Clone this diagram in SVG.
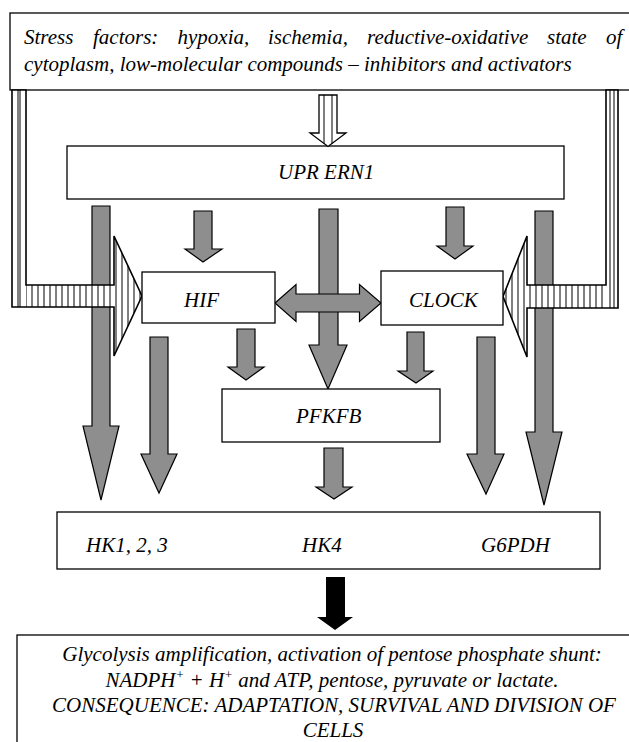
<svg xmlns="http://www.w3.org/2000/svg" width="629" height="742" viewBox="0 0 629 742">
<style>
.box{fill:#fff;stroke:#000;stroke-width:1.3}
.t{font-family:'Liberation Serif',serif;font-style:italic;font-size:21px;fill:#000}
.c{text-anchor:middle}
.g{fill:#8e8e8e;stroke:#000;stroke-width:1.2;stroke-linejoin:miter}
.hout{fill:none;stroke:#000;stroke-width:1.6}
.thin{stroke:#000;stroke-width:1}
</style>
<defs>
<pattern id="vh" width="6" height="10" patternUnits="userSpaceOnUse">
<rect width="6" height="10" fill="#fff"/>
<line x1="2" y1="0" x2="2" y2="10" stroke="#000" stroke-width="1"/>
</pattern>
</defs>

<g id="stress">
<rect class="box" x="10" y="13" width="630" height="77"/>
<text class="t" font-family="Liberation Serif" y="44"><tspan x="24">Stress</tspan><tspan x="93">factors:</tspan><tspan x="177.5">hypoxia,</tspan><tspan x="268">ischemia,</tspan><tspan x="367">reductive-oxidative</tspan><tspan x="547">state</tspan><tspan x="606">of</tspan></text>
<text class="t" font-family="Liberation Serif" x="24" y="71">cytoplasm, low-molecular compounds – inhibitors and activators</text>
</g>

<g id="upr">
<rect class="box" x="67" y="146" width="497" height="53"/>
<text class="t" font-family="Liberation Serif" x="278" y="179">UPR ERN1</text>
</g>

<g id="connectors">
<polygon class="g" points="92,206 110,206 110,426 119,426 101,500 83,426 92,426"/>
<polygon class="g" points="150,337 168,337 168,454 177,454 159,493 141,454 150,454"/>
<polygon class="g" points="194,211 212,211 212,249 222,249 203,262 185,249 194,249"/>
<polygon class="g" points="446,207 464,207 464,246 473,246 455,259 437,246 446,246"/>
<polygon class="g" points="319,209 338,209 338,345 347,345 328,389 309,345 319,345"/>
<polygon class="g" points="237,329 255,329 255,367 264,367 246,380 228,367 237,367"/>
<polygon class="g" points="407,332 424,332 424,371 433,371 416,383 398,371 407,371"/>
<polygon class="g" points="477,337 495,337 495,454 504,454 486,494 467,454 477,454"/>
<polygon class="g" points="535,211 553,211 553,432 562,432 544,505 526,432 535,432"/>
<polygon class="g" points="324,448 343,448 343,487 352,487 334,499 316,487 324,487"/>
<polygon class="g" points="275,303 296,284.5 296,294 359.5,294 359.5,284.5 381,303 359.5,321.5 359.5,312 296,312 296,321.5"/>
<polygon points="326,577 345,577 345,617 353,617 335,630 317,617 326,617" fill="#000"/>
<polygon points="319,95 337,95 337,133 346,133 328,146.5 310,133 319,133" fill="#fff" stroke="#000" stroke-width="1.3"/>
<line class="thin" x1="324" y1="95" x2="324" y2="143.5"/>
<line class="thin" x1="332" y1="95" x2="332" y2="143.5"/>
<polygon points="12,90 26,90 26,285 114,285 114,236 142,296 114,356 114,307 12,307" fill="url(#vh)"/>
<rect x="12" y="90" width="14" height="217" fill="#fff"/>
<line class="thin" x1="18" y1="90" x2="18" y2="307"/>
<line class="thin" x1="20" y1="90" x2="20" y2="307"/>
<polygon class="hout" points="12,90 26,90 26,285 114,285 114,236 142,296 114,356 114,307 12,307"/>
<polygon points="618,90 606,90 606,285 527,285 527,236 503,296.5 527,357 527,308 618,308" fill="url(#vh)"/>
<rect x="606" y="90" width="12" height="218" fill="#fff"/>
<line class="thin" x1="610" y1="90" x2="610" y2="308"/>
<line class="thin" x1="614" y1="90" x2="614" y2="308"/>
<polygon class="hout" points="618,90 606,90 606,285 527,285 527,236 503,296.5 527,357 527,308 618,308"/>
</g>

<g id="hif">
<rect class="box" x="142" y="272" width="133" height="51"/>
<text class="t" font-family="Liberation Serif" x="184" y="307">HIF</text>
</g>

<g id="clock">
<rect class="box" x="381" y="271" width="122" height="54"/>
<text class="t" font-family="Liberation Serif" x="409" y="307">CLOCK</text>
</g>

<g id="pfkfb">
<rect class="box" x="222" y="389" width="218" height="53"/>
<text class="t" font-family="Liberation Serif" x="296" y="423">PFKFB</text>
</g>

<g id="enzymes">
<rect class="box" x="57" y="512" width="543" height="57"/>
<text class="t" font-family="Liberation Serif" x="86" y="552">HK1, 2, 3</text>
<text class="t" font-family="Liberation Serif" x="302" y="552">HK4</text>
<text class="t" font-family="Liberation Serif" x="481" y="552">G6PDH</text>
</g>

<g id="outcome">
<rect class="box" x="17" y="635" width="630" height="130"/>
<text class="t c" font-family="Liberation Serif" x="332" y="661">Glycolysis amplification, activation of pentose phosphate shunt:</text>
<text class="t c" font-family="Liberation Serif" x="332" y="687">NADPH<tspan dy="-8" font-size="13">+</tspan><tspan dy="8"> + H</tspan><tspan dy="-8" font-size="13">+</tspan><tspan dy="8"> and ATP, pentose, pyruvate or lactate.</tspan></text>
<text class="t c" font-family="Liberation Serif" x="334" y="712">CONSEQUENCE: ADAPTATION, SURVIVAL AND DIVISION OF</text>
<text class="t c" font-family="Liberation Serif" x="333" y="737">CELLS</text>
</g>
</svg>
